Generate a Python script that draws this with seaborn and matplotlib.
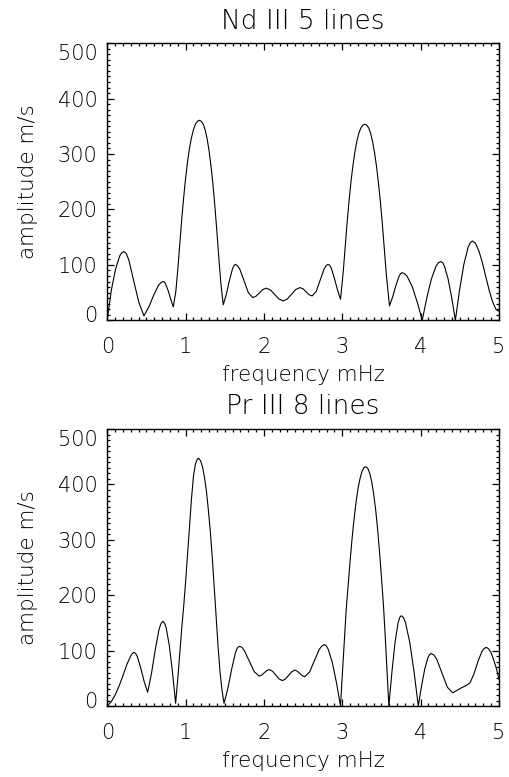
import numpy as np
import pandas as pd
import matplotlib
matplotlib.use("Agg")
import matplotlib.pyplot as plt
from matplotlib.ticker import MultipleLocator
from matplotlib.transforms import ScaledTranslation
import seaborn as sns

# ---------------- data ----------------
titles = ["Nd III 5 lines", "Pr III 8 lines"]
x_label = "frequency mHz"
y_label = "amplitude m/s"
x_ticks = [0, 1, 2, 3, 4, 5]
y_ticks = [0, 100, 200, 300, 400, 500]

nd_freq = [0.00, 0.0525, 0.105, 0.1575, 0.185, 0.21, 0.24, 0.2745, 0.339, 0.4035, 0.468,
           0.5295, 0.591, 0.6525, 0.684, 0.714, 0.73, 0.746, 0.778, 0.81, 0.842,
           0.875, 0.90, 0.925, 0.95, 0.975, 1.00, 1.025, 1.05, 1.075, 1.10, 1.125, 1.15, 1.175,
           1.20, 1.225, 1.25, 1.275, 1.30, 1.325, 1.35, 1.375, 1.40, 1.425, 1.45, 1.48,
           1.5195, 1.559, 1.5985, 1.618, 1.638, 1.665, 1.6925, 1.7465, 1.80, 1.855,
           1.899, 1.9425, 1.986, 2.03, 2.084, 2.1375, 2.191, 2.245,
           2.298, 2.3515, 2.405, 2.458, 2.497, 2.5365, 2.576, 2.615,
           2.666, 2.7175, 2.769, 2.795, 2.82, 2.84, 2.859, 2.8985, 2.938, 2.977,
           3.012, 3.037, 3.062, 3.087, 3.112, 3.137, 3.162, 3.187, 3.212, 3.237, 3.262, 3.287,
           3.312, 3.337, 3.362, 3.387, 3.412, 3.437, 3.462, 3.487, 3.512, 3.537, 3.562, 3.602,
           3.642, 3.6825, 3.723, 3.743, 3.763, 3.795, 3.827, 3.8915, 3.956, 4.02,
           4.079, 4.138, 4.197, 4.226, 4.256, 4.28, 4.303, 4.3495, 4.396, 4.443,
           4.497, 4.5515, 4.606, 4.633, 4.66, 4.70, 4.745, 4.79, 4.83, 4.875, 4.915, 4.96, 5.00]
nd_amp = [2, 55, 92, 116, 122, 124, 121, 109, 70, 32, 8,
          24, 45, 63, 68, 70, 69, 65, 53, 38, 24,
          52, 92, 138, 182, 222, 257, 287, 311, 330, 344, 354, 359, 361,
          359, 354, 343, 327, 305, 277, 243, 203, 158, 110, 66, 28,
          47, 72, 93, 99, 101, 98, 92, 71, 50, 41,
          43.5, 49.5, 55.5, 58, 54.6, 46.5, 38.4, 35,
          38.5, 47, 55.5, 59, 57, 51.5, 46, 44,
          52, 72.5, 93, 99, 101, 99, 94, 76, 55, 38,
          88, 133, 178, 217, 252, 281, 305, 324, 338, 347, 352, 354,
          352, 347, 337, 322, 302, 277, 247, 212, 172, 128, 82, 26,
          42, 62, 79, 84, 86, 84, 79.5, 61, 33, 0,
          41, 75, 98, 104, 106, 104, 98, 75, 41, 0,
          55, 101, 132, 140, 143, 139, 124.5, 103, 79.5, 54, 34.5, 20, 16]

pr_freq = [0.00, 0.05, 0.10, 0.15, 0.20, 0.25, 0.30, 0.32, 0.34, 0.362, 0.384, 0.4275, 0.471, 0.515,
           0.564, 0.6125, 0.661, 0.686, 0.71, 0.73, 0.7505, 0.791, 0.8315, 0.872,
           0.90, 0.925, 0.95, 0.975, 1.00, 1.025, 1.05, 1.075, 1.10, 1.125, 1.15, 1.165,
           1.19, 1.215, 1.24, 1.265, 1.29, 1.315, 1.34, 1.365, 1.39, 1.415, 1.44, 1.465, 1.49,
           1.539, 1.588, 1.637, 1.66, 1.686, 1.72, 1.7495, 1.813, 1.8765, 1.94,
           1.9715, 2.003, 2.0345, 2.066, 2.1085, 2.151, 2.1935, 2.236,
           2.2755, 2.315, 2.3545, 2.394, 2.4255, 2.457, 2.4885, 2.52,
           2.582, 2.644, 2.706, 2.737, 2.768, 2.794, 2.82, 2.8725, 2.925, 2.977,
           3.00, 3.025, 3.05, 3.075, 3.10, 3.125, 3.15, 3.175, 3.20, 3.225, 3.25, 3.275, 3.30,
           3.325, 3.35, 3.375, 3.40, 3.425, 3.45, 3.475, 3.50, 3.525, 3.55, 3.575, 3.594,
           3.6335, 3.673, 3.7125, 3.732, 3.752, 3.779, 3.8065, 3.861, 3.9155, 3.97,
           4.011, 4.0525, 4.094, 4.115, 4.135, 4.17, 4.204, 4.2725, 4.341, 4.41,
           4.46, 4.52, 4.58, 4.63, 4.68, 4.73, 4.78, 4.81, 4.84, 4.87, 4.90, 4.94, 4.97, 5.00]
pr_amp = [0, 8, 20, 36, 55, 75, 91, 95, 97, 95, 89, 68.5, 44, 25,
          59, 102, 139, 149, 153, 150, 142, 110, 62, 5,
          50, 95, 140, 180, 225, 275, 325, 375, 415, 437, 446, 447,
          443, 432, 413, 388, 354, 315, 268, 215, 160, 105, 60, 28, 5,
          32, 67, 97, 105, 108, 106, 100, 81, 62, 54,
          56, 60, 64, 66, 63, 56, 49, 46,
          49, 55.5, 62, 65, 63, 59, 55, 53,
          61.5, 82, 102.5, 108, 111, 109, 102.5, 78.5, 42.5, 0,
          57, 115, 175, 220, 263, 303, 338, 368, 392, 410, 423, 430, 432,
          429, 420, 405, 383, 355, 320, 278, 232, 182, 120, 50, 0,
          62, 115, 150.5, 160, 163, 160, 150.5, 115, 62, 0,
          36, 67, 88, 93, 95, 92, 85, 59.5, 34, 24,
          28, 33, 37, 42, 58, 80, 98, 104, 106, 103, 96, 80, 66, 48]

series = [(nd_freq, nd_amp), (pr_freq, pr_amp)]

# ---------------- style ----------------
sns.set_theme(style="white")
plt.rcParams['font.family'] = ['DejaVu Sans']
plt.rcParams['font.weight'] = 'light'
plt.rcParams['axes.linewidth'] = 1.0

W, H = 510, 777
fig = plt.figure(figsize=(W / 100, H / 100), dpi=100, facecolor="white")

# axes boxes in pixels (left, top, right, bottom)
boxes = [(107.3, 43.2, 499.0, 320.3), (107.3, 429.0, 499.0, 706.1)]
title_y = [1.077, 1.080]

for i, ((fx, fy), (l, t, r, b)) in enumerate(zip(series, boxes)):
    ax = fig.add_axes([l / W, 1 - b / H, (r - l) / W, (b - t) / H])
    ax.set_facecolor("white")
    df = pd.DataFrame({"freq": fx, "amp": fy})
    sns.lineplot(data=df, x="freq", y="amp", ax=ax, color="black",
                 linewidth=0.8, estimator=None, sort=True)
    ax.set_xlim(0, 5)
    ax.set_ylim(0, 500)
    ax.set_xticks(x_ticks)
    ax.set_yticks(y_ticks)
    ax.set_xticklabels([str(v) for v in x_ticks])
    ax.set_yticklabels([str(v) for v in y_ticks])
    ax.xaxis.set_minor_locator(MultipleLocator(0.1))
    ax.yaxis.set_minor_locator(MultipleLocator(10))
    for sp in ax.spines.values():
        sp.set_visible(True)
        sp.set_color("black")
        sp.set_linewidth(1.0)
    ax.tick_params(which="both", direction="in", top=True, right=True,
                   bottom=True, left=True, color="black", width=0.9)
    ax.tick_params(which="major", length=5)
    ax.tick_params(which="minor", length=2.5)
    ax.tick_params(axis="x", which="major", pad=12, labelsize=15, labelcolor="black")
    ax.tick_params(axis="y", which="major", pad=7, labelsize=15, labelcolor="black")
    for lab in ax.get_xticklabels() + ax.get_yticklabels():
        lab.set_fontweight("light")

    # nudge the end labels of the y axis like the reference
    yt = ax.yaxis.get_major_ticks()
    yt[0].label1.set_transform(yt[0].label1.get_transform() +
                               ScaledTranslation(0, 0.06, fig.dpi_scale_trans))
    yt[-1].label1.set_transform(yt[-1].label1.get_transform() +
                                ScaledTranslation(0, -0.09, fig.dpi_scale_trans))

    ax.set_xlabel(x_label, fontsize=15.5, color="black", fontweight="light")
    ax.set_ylabel(y_label, fontsize=15.5, color="black", fontweight="light")
    ax.xaxis.set_label_coords(0.5, -0.197)
    ax.xaxis.label.set_va("center")
    ax.yaxis.set_label_coords(-0.2025, 0.499)
    ax.yaxis.label.set_va("center")
    ax.set_title(titles[i], fontsize=19, color="black", fontweight="light",
                 y=title_y[i], va="center", pad=0)

fig.savefig("out.png", dpi=100, facecolor="white")
